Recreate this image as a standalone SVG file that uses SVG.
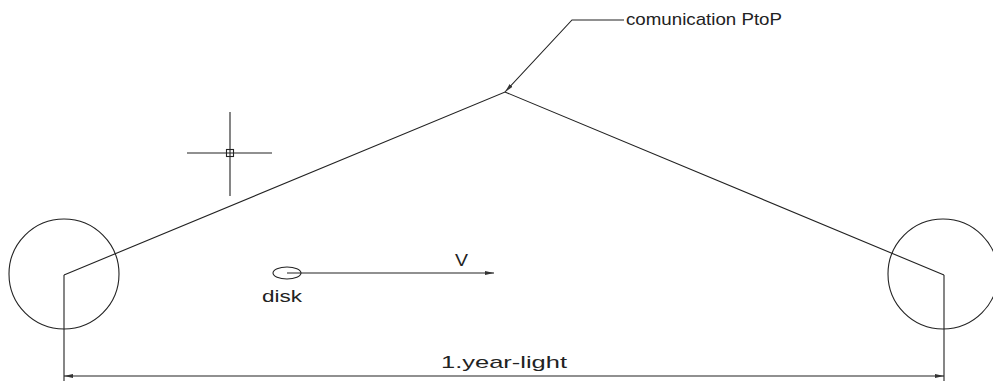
<svg xmlns="http://www.w3.org/2000/svg" width="993" height="381" viewBox="0 0 993 381">
<style>
.l{stroke:#222;stroke-width:1.1;fill:none}
.t{font-family:"Liberation Sans",Arial,sans-serif;font-size:17px;fill:#222}
</style>
<defs>
<marker id="ah" markerWidth="10" markerHeight="6" refX="9" refY="3" orient="auto-start-reverse" markerUnits="userSpaceOnUse">
<path d="M0,1 L9,3 L0,5 Z" fill="#333"/>
</marker>
</defs>
<rect width="993" height="381" fill="#fff"/>
<g id="left-body"><circle class="l" cx="64" cy="274" r="55"/></g>
<g id="right-body"><circle class="l" cx="943" cy="274" r="55"/></g>
<g id="apex"><text class="t" x="626" y="25" textLength="156" lengthAdjust="spacingAndGlyphs">comunication PtoP</text></g>
<g id="cursor">
<line class="l" x1="187" y1="153" x2="272" y2="153"/>
<line class="l" x1="230" y1="112" x2="230" y2="196"/>
<rect class="l" x="226.5" y="149.5" width="7" height="7"/>
</g>
<g id="disk">
<ellipse class="l" cx="287" cy="273" rx="14" ry="6"/>
<text class="t" x="262" y="302" textLength="40" lengthAdjust="spacingAndGlyphs">disk</text>
<text class="t" x="455" y="266" textLength="13" lengthAdjust="spacingAndGlyphs">V</text>
</g>
<g id="dimension"><text class="t" x="441" y="368" textLength="126" lengthAdjust="spacingAndGlyphs">1.year-light</text></g>
<g id="connectors">
<polyline class="l" points="64,275 505,92 944,275"/>
<polyline class="l" points="624,20 572,20 505,92" marker-end="url(#ah)"/>
<line class="l" x1="287" y1="273" x2="494" y2="273" marker-end="url(#ah)"/>
<line class="l" x1="64" y1="275" x2="64" y2="381"/>
<line class="l" x1="944" y1="275" x2="944" y2="381"/>
<line class="l" x1="64" y1="376" x2="944" y2="376" marker-start="url(#ah)" marker-end="url(#ah)"/>
</g>
</svg>
